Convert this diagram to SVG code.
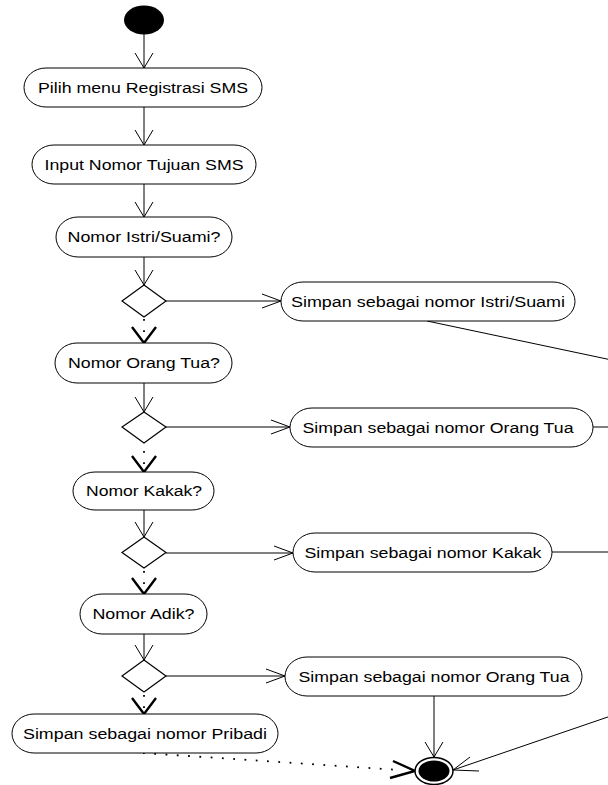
<svg xmlns="http://www.w3.org/2000/svg" xmlns:xlink="http://www.w3.org/1999/xlink" width="608" height="785" viewBox="0 0 608 785">
  <style>
    .act { fill: #ffffff; stroke: #000000; stroke-width: 1; }
    .dec { fill: #ffffff; stroke: #000000; stroke-width: 1.2; }
    .lbl { font-family: "Liberation Sans", Arial, sans-serif; font-size: 14px; fill: #000000; text-anchor: middle; }
    .flow { fill: none; stroke: #000000; stroke-width: 1; }
    .dot { fill: none; stroke: #000000; stroke-width: 1.8; stroke-dasharray: 1.8 9.5; }
    .head { fill: none; stroke: #000000; stroke-width: 1; }
    .bold { fill: none; stroke: #000000; stroke-width: 2.4; }
  </style>
  <defs>
    <path id="arrDown" class="head" d="M-9,-15 L0,0 L9,-15"/>
    <path id="arrRight" class="head" d="M-19,-7 L0,0 L-19,7"/>
    <path id="arrBold" class="bold" d="M-12,-16 L0,0 L12,-16"/>
  </defs>

  <rect width="608" height="785" fill="#ffffff"/>

  <!-- connectors -->
  <g id="connectors">
    <line class="flow" x1="144" y1="34" x2="144" y2="68"/>
    <use xlink:href="#arrDown" x="144" y="68"/>
    <line class="flow" x1="144" y1="107" x2="144" y2="145"/>
    <use xlink:href="#arrDown" x="144" y="145"/>
    <line class="flow" x1="144" y1="184" x2="144" y2="217"/>
    <use xlink:href="#arrDown" x="144" y="217"/>
    <line class="flow" x1="144" y1="257" x2="144" y2="285"/>
    <use xlink:href="#arrDown" x="144" y="285"/>

    <line class="flow" x1="166" y1="301" x2="281" y2="301"/>
    <use xlink:href="#arrRight" x="281" y="301"/>
    <line class="dot" x1="144" y1="319" x2="144" y2="340"/>
    <use xlink:href="#arrBold" x="144" y="343"/>

    <line class="flow" x1="144" y1="383" x2="144" y2="412"/>
    <use xlink:href="#arrDown" x="144" y="412"/>
    <line class="flow" x1="166" y1="427" x2="290" y2="427"/>
    <use xlink:href="#arrRight" x="290" y="427"/>
    <line class="dot" x1="144" y1="451" x2="144" y2="469"/>
    <use xlink:href="#arrBold" x="144" y="472"/>

    <line class="flow" x1="144" y1="510" x2="144" y2="537"/>
    <use xlink:href="#arrDown" x="144" y="537"/>
    <line class="flow" x1="166" y1="553" x2="293" y2="553"/>
    <use xlink:href="#arrRight" x="293" y="553"/>
    <line class="dot" x1="144" y1="571" x2="144" y2="591"/>
    <use xlink:href="#arrBold" x="144" y="594"/>

    <line class="flow" x1="144" y1="634" x2="144" y2="660"/>
    <use xlink:href="#arrDown" x="144" y="660"/>
    <line class="flow" x1="166" y1="676" x2="285" y2="676"/>
    <use xlink:href="#arrRight" x="285" y="676"/>
    <line class="dot" x1="144" y1="695" x2="144" y2="711"/>
    <use xlink:href="#arrBold" x="144" y="714"/>

    <!-- into the final state -->
    <line class="dot" x1="143" y1="753" x2="400" y2="770"/>
    <path class="bold" d="M393,761 L415,771 L390,778"/>
    <line class="flow" x1="434" y1="696" x2="434" y2="757"/>
    <use xlink:href="#arrDown" x="434" y="757"/>
    <line class="flow" x1="640" y1="706" x2="453" y2="770"/>
    <path class="head" d="M470,757 L453,770 L479,771"/>

    <!-- branches leaving to the right -->
    <line class="flow" x1="427" y1="321" x2="640" y2="366"/>
    <line class="flow" x1="593" y1="427" x2="640" y2="427"/>
    <line class="flow" x1="552" y1="552" x2="640" y2="552"/>
  </g>

  <!-- initial state -->
  <g id="start">
    <ellipse cx="144" cy="20" rx="20" ry="14.5" fill="#000000"/>
  </g>

  <g id="pilih-menu">
    <rect class="act" x="24" y="68" width="238" height="39" rx="22" ry="19.5"/>
    <text class="lbl" x="143" y="92.5" textLength="210" lengthAdjust="spacingAndGlyphs">Pilih menu Registrasi SMS</text>
  </g>
  <g id="input-nomor">
    <rect class="act" x="32" y="145" width="224" height="39" rx="22" ry="19.5"/>
    <text class="lbl" x="144" y="169.5" textLength="199" lengthAdjust="spacingAndGlyphs">Input Nomor Tujuan SMS</text>
  </g>
  <g id="tanya-istri">
    <rect class="act" x="56" y="217" width="176" height="40" rx="22" ry="20"/>
    <text class="lbl" x="144" y="242" textLength="153" lengthAdjust="spacingAndGlyphs">Nomor Istri/Suami?</text>
  </g>
  <g id="cek-istri">
    <polygon class="dec" points="144,285 166,301 144,317 122,301"/>
  </g>
  <g id="simpan-istri">
    <rect class="act" x="281" y="282" width="294" height="39" rx="22" ry="19.5"/>
    <text class="lbl" x="428" y="306.5" textLength="274" lengthAdjust="spacingAndGlyphs">Simpan sebagai nomor Istri/Suami</text>
  </g>

  <g id="tanya-ortu">
    <rect class="act" x="55" y="343" width="177" height="40" rx="22" ry="20"/>
    <text class="lbl" x="144" y="368" textLength="152" lengthAdjust="spacingAndGlyphs">Nomor Orang Tua?</text>
  </g>
  <g id="cek-ortu">
    <polygon class="dec" points="144,412 166,427 144,443 122,427"/>
  </g>
  <g id="simpan-ortu">
    <rect class="act" x="290" y="408" width="303" height="39" rx="22" ry="19.5"/>
    <text class="lbl" x="438" y="432.5" textLength="271" lengthAdjust="spacingAndGlyphs">Simpan sebagai nomor Orang Tua</text>
  </g>

  <g id="tanya-kakak">
    <rect class="act" x="73" y="472" width="141" height="38" rx="22" ry="19"/>
    <text class="lbl" x="144" y="496" textLength="116" lengthAdjust="spacingAndGlyphs">Nomor Kakak?</text>
  </g>
  <g id="cek-kakak">
    <polygon class="dec" points="144,537 166,552.5 144,568 122,552.5"/>
  </g>
  <g id="simpan-kakak">
    <rect class="act" x="293" y="533" width="259" height="39" rx="22" ry="19.5"/>
    <text class="lbl" x="423" y="557.5" textLength="237" lengthAdjust="spacingAndGlyphs">Simpan sebagai nomor Kakak</text>
  </g>

  <g id="tanya-adik">
    <rect class="act" x="80" y="594" width="127" height="40" rx="22" ry="20"/>
    <text class="lbl" x="143.5" y="619" textLength="102" lengthAdjust="spacingAndGlyphs">Nomor Adik?</text>
  </g>
  <g id="cek-adik">
    <polygon class="dec" points="144,660 166,676 144,692 122,676"/>
  </g>
  <g id="simpan-adik">
    <rect class="act" x="285" y="657" width="297" height="39" rx="22" ry="19.5"/>
    <text class="lbl" x="434" y="681.5" textLength="271" lengthAdjust="spacingAndGlyphs">Simpan sebagai nomor Orang Tua</text>
  </g>

  <g id="simpan-pribadi">
    <rect class="act" x="12" y="714" width="266" height="39" rx="22" ry="19.5"/>
    <text class="lbl" x="145" y="738.5" textLength="244" lengthAdjust="spacingAndGlyphs">Simpan sebagai nomor Pribadi</text>
  </g>

  <!-- final state -->
  <g id="end">
    <ellipse cx="434" cy="771" rx="19" ry="13.5" fill="#ffffff" stroke="#000000" stroke-width="1.5"/>
    <ellipse cx="434" cy="771" rx="15.5" ry="10.5" fill="#000000"/>
  </g>
</svg>
